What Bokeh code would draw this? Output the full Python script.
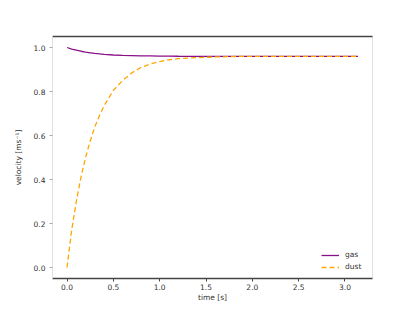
from bokeh.plotting import figure
from bokeh.models import LinearAxis, Range1d, FixedTicker, NumeralTickFormatter, Legend, LegendItem
from bokeh.embed import file_html
from bokeh.resources import INLINE

# time samples [s]
t = [0.0, 0.05, 0.1, 0.15, 0.2, 0.25, 0.3, 0.35, 0.4, 0.5, 0.6, 0.7, 0.8, 0.9, 1.0,
     1.1, 1.2, 1.4, 1.6, 1.8, 2.0, 2.5, 3.14]
# velocities
gas = [1.0, 0.993, 0.988, 0.983, 0.979, 0.976, 0.973, 0.971, 0.969, 0.966, 0.964, 0.963,
       0.962, 0.9615, 0.961, 0.9605, 0.9603, 0.9601, 0.96, 0.96, 0.96, 0.96, 0.96]
dust = [0.0, 0.17, 0.30, 0.41, 0.50, 0.575, 0.64, 0.69, 0.735, 0.805, 0.85, 0.885,
        0.91, 0.925, 0.936, 0.944, 0.949, 0.954, 0.957, 0.959, 0.96, 0.96, 0.96]
xticks = [0.0, 0.5, 1.0, 1.5, 2.0, 2.5, 3.0]
yticks = [0.0, 0.2, 0.4, 0.6, 0.8, 1.0]

FONT = "DejaVu Sans"
DARK = "#444444"
LIGHT = "#e0e0e0"

p = figure(width=399, height=304, output_backend="svg", toolbar_location=None,
           x_range=Range1d(-0.157, 3.297), y_range=Range1d(-0.05, 1.05),
           min_border_left=52, min_border_right=27, min_border_top=36, min_border_bottom=18,
           x_axis_label="time [s]", y_axis_label="velocity [ms\u207b\u00b9]")
p.grid.visible = False
p.outline_line_color = LIGHT
p.outline_line_width = 1

r1 = p.line(t, gas, line_color="#8a108a", line_width=1.3)
r2 = p.line(t, dust, line_color="#FFA500", line_width=1.3, line_dash="5 3")

xa = p.xaxis[0]
xa.ticker = FixedTicker(ticks=xticks)
xa.formatter = NumeralTickFormatter(format="0.0")
xa.axis_line_color = DARK
xa.axis_line_width = 1.5
xa.major_tick_line_color = DARK
xa.major_tick_out = 3
xa.major_tick_in = 0
xa.minor_tick_line_color = None
xa.major_label_standoff = 2
xa.axis_label_standoff = 0

ya = p.yaxis[0]
ya.ticker = FixedTicker(ticks=yticks)
ya.formatter = NumeralTickFormatter(format="0.0")
ya.axis_line_color = LIGHT
ya.major_tick_line_color = "#aaaaaa"
ya.major_tick_out = 3
ya.major_tick_in = 0
ya.minor_tick_line_color = None
ya.major_label_standoff = 4
ya.axis_label_standoff = 8

for ax in (xa, ya):
    ax.major_label_text_font = FONT
    ax.major_label_text_font_size = "7.5px"
    ax.major_label_text_color = "#333333"
    ax.axis_label_text_font = FONT
    ax.axis_label_text_font_size = "7.5px"
    ax.axis_label_text_font_style = "normal"
    ax.axis_label_text_color = "#333333"

top = LinearAxis(ticker=FixedTicker(ticks=[]), axis_line_color=DARK, axis_line_width=1.5,
                 major_label_text_font_size="0px", major_tick_line_color=None,
                 minor_tick_line_color=None)
p.add_layout(top, "above")

legend = Legend(items=[LegendItem(label="gas", renderers=[r1]),
                       LegendItem(label="dust", renderers=[r2])],
                location="bottom_right", border_line_color=None, background_fill_alpha=0,
                label_text_font=FONT, label_text_font_size="7.5px", label_text_color="#333333",
                glyph_width=18, glyph_height=8, label_height=8, spacing=3,
                margin=7, padding=3, label_standoff=6)
p.add_layout(legend)

open("out.html", "w").write(file_html(p, INLINE))
